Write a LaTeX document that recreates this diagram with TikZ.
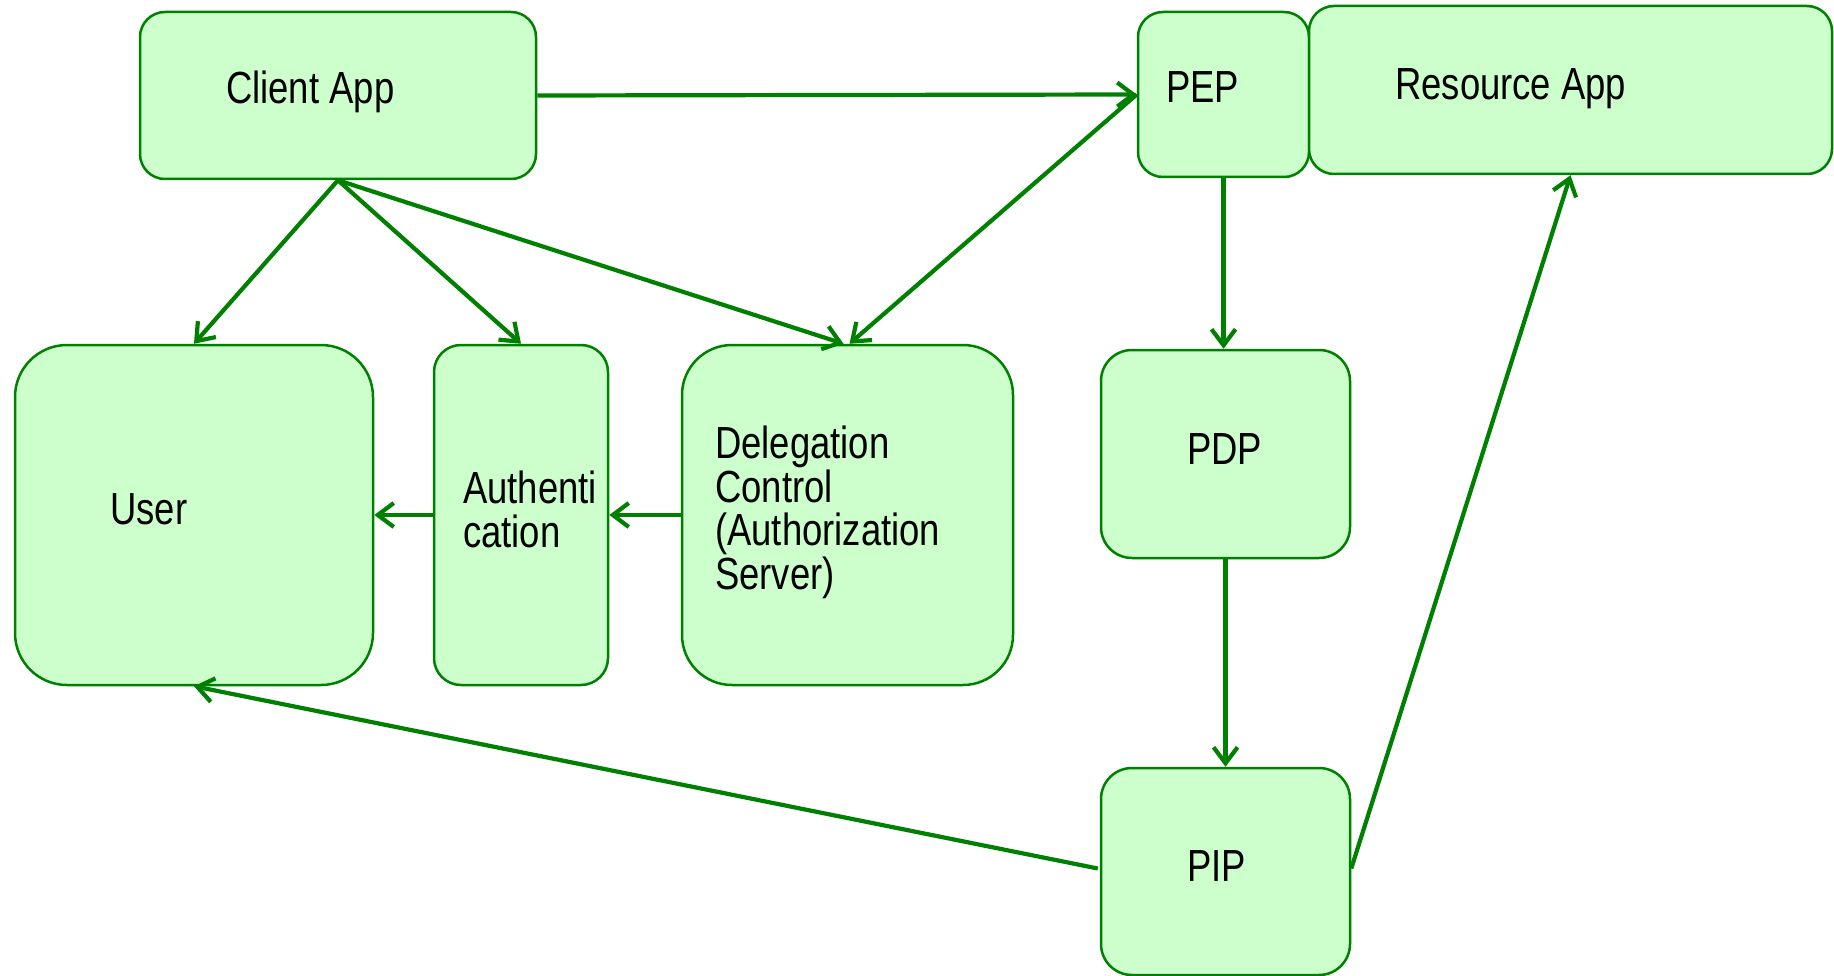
\documentclass[tikz,border=0pt]{standalone}
\usepackage{fontspec}
\setmainfont{Liberation Sans}[FakeStretch=0.81]
\usetikzlibrary{arrows.meta,calc}
\definecolor{boxfill}{HTML}{CCFFCC}
\definecolor{boxline}{HTML}{008000}
\tikzset{
  box/.style={draw=boxline, fill=boxfill, line width=2.5pt, inner sep=0pt},
  lbl/.style={anchor=base west, inner sep=0pt, align=left,
    font=\fontsize{45}{43.5}\selectfont},
  flow/.style={draw=boxline, line width=4.2pt,
    -{Straight Barb[length=16pt,width=24pt,line width=4.2pt]}}
}
\begin{document}
\begin{tikzpicture}[x=1pt,y=-1pt]
\useasboundingbox (0,0) rectangle (1834,976);

% boxes (centre, size, corner radius)
\node[box, minimum width=396pt, minimum height=167pt, rounded corners=25pt] (client) at (338,95.5) {};
\node[box, minimum width=171pt, minimum height=165pt, rounded corners=25pt] (pep) at (1223.5,94.5) {};
\node[box, minimum width=523pt, minimum height=168pt, rounded corners=25pt] (res) at (1570.5,90) {};
\node[box, minimum width=358pt, minimum height=340pt, rounded corners=52pt] (user) at (194,515) {};
\node[box, minimum width=174pt, minimum height=340pt, rounded corners=27pt] (auth) at (521,515) {};
\node[box, minimum width=331pt, minimum height=340pt, rounded corners=50pt] (deleg) at (847.5,515) {};
\node[box, minimum width=249pt, minimum height=208pt, rounded corners=31pt] (pdp) at (1225.5,454) {};
\node[box, minimum width=249pt, minimum height=207pt, rounded corners=31pt] (pip) at (1225.5,871.5) {};

% labels (multi-line labels are placed by their last baseline)
\node[lbl] (clientT) at (226,104) {Client App};
\node[lbl] (pepT) at (1166,103) {PEP};
\node[lbl] (resT) at (1395,100) {Resource App};
\node[lbl] (userT) at (110,524) {User};
\node[lbl] (authT) at (463,547) {Authenti\\cation};
\node[lbl] (delegT) at (715,589) {Delegation\\Control\\(Authorization\\Server)};
\node[lbl] (pdpT) at (1187,464) {PDP};
\node[lbl] (pipT) at (1187,881) {PIP};

% connectors
\draw[flow] (client.east) -- (pep.west);
\draw[flow] (client.south) -- (user.north);
\draw[flow] (client.south) -- (auth.north);
\draw[flow] (client.south) -- ($(deleg.north)+(-4,0)$);
\draw[flow] (pep.west) -- ($(deleg.north)+(2,0)$);
\draw[flow] (pep.south) -- (pep.south |- pdp.north);
\draw[flow] (pdp.south) -- (pip.north);
\draw[flow] (deleg.west) -- (auth.east);
\draw[flow] (auth.west) -- (user.east);
\draw[flow] ($(pip.west)+(-2,-3)$) -- (user.south);
\draw[flow] ($(pip.east)+(0,-3)$) -- (res.south);
\end{tikzpicture}
\end{document}
